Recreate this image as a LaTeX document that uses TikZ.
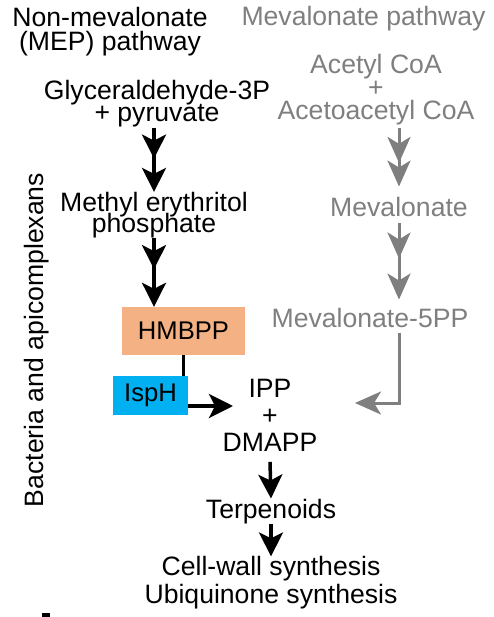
\documentclass[tikz,border=0pt]{standalone}
\usepackage{fontspec}
\setmainfont{Liberation Sans}
\usetikzlibrary{arrows.meta,calc,decorations.markings}
\definecolor{Peach}{HTML}{F4B183}
\definecolor{Azure}{HTML}{00B0F0}
\definecolor{Ash}{HTML}{7F7F7F}
\newcommand\labfont{\fontsize{26.6}{22}\selectfont\lineskiplimit=-30pt}
\tikzset{
  lbl/.style={inner sep=0pt,align=center,font=\labfont},
  enz/.style={inner sep=0pt,font=\fontsize{25.6}{22}\selectfont},
  blk/.style={line width=3.5pt,-{Stealth[length=24pt,width=24pt,inset=6pt]}},
  gry/.style={Ash,line width=3pt,-{Stealth[length=26pt,width=23pt,inset=7pt]}},
  midblk/.style={postaction={decorate},decoration={markings,
    mark=at position #1 with {\arrow{Stealth[length=24pt,width=24pt,inset=6pt]}}}},
  midgry/.style={postaction={decorate},decoration={markings,
    mark=at position #1 with {\arrow{Stealth[length=26pt,width=23pt,inset=7pt]}}}}
}

\begin{document}
\begin{tikzpicture}[x=1pt,y=-1pt]
  \useasboundingbox (0,0) rectangle (493,617);
  \node[lbl] (nm) at (110,31.3) {Non-mevalonate\\[2pt](MEP) pathway};
  \node[lbl,Ash,anchor=base] (mp) at (363.5,26) {Mevalonate pathway};
  \node[lbl] (gp) at (157,104) {Glyceraldehyde-3P\\+ pyruvate};
  \node[lbl,Ash] (acc) at (376,89.3) {Acetyl CoA\\[1pt]+\\[1pt]Acetoacetyl CoA};
  \node[lbl] (mep) at (154,215) {Methyl erythritol\\[-1pt]phosphate};
  \node[lbl,Ash,anchor=base] (mva) at (399,217) {Mevalonate};
  \node[lbl,Ash,anchor=base] (m5) at (370,327) {Mevalonate-5PP};
  \node[enz,fill=Peach,minimum width=123pt,minimum height=48pt] (hb) at (183.5,331) {HMBPP};
  \node[enz,fill=Azure,minimum width=75pt,minimum height=39pt] (isp) at (150.5,395.5) {IspH};
  \node[lbl] (ipp) at (270,415.5) {IPP\\[5pt]+\\[5pt]DMAPP};
  \node[lbl,anchor=base] (trp) at (271,518) {Terpenoids};
  \node[lbl] (cw) at (271,583) {Cell-wall synthesis\\[6pt]Ubiquinone synthesis};
  \node[lbl,rotate=90,anchor=base] (bac) at (43,340) {Bacteria and apicomplexans};
  \coordinate (ippin) at (233,406);
  \coordinate (mvain) at (355,403);

  \draw[blk,midblk=31pt] (mep.north |- gp.south) -- (mep.north);
  \draw[blk,midblk=31pt] (mep.south) -- (mep.south |- hb.north);
  \draw[line width=3.5pt] (hb.south) -- (hb.south |- isp.north);
  \draw[blk] (isp.east |- ippin) -- (ippin);
  \draw[blk] ($(ipp.south)+(0,10)$) -- (trp.north);
  \draw[blk] (trp.south) -- (cw.north);

  \draw[gry,midgry=35pt] ($(acc.south -| mva)+(0,3)$) -- ($(mva.north)+(0,-11)$);
  \draw[gry,midgry=35pt] ($(mva.south)+(0,6)$) -- ($(m5.north -| mva)+(0,-8)$);
  \draw[gry] ($(m5.south -| mva)+(0,6)$) |- (mvain);

  \fill (42,613) rectangle (50,617);
\end{tikzpicture}
\end{document}
